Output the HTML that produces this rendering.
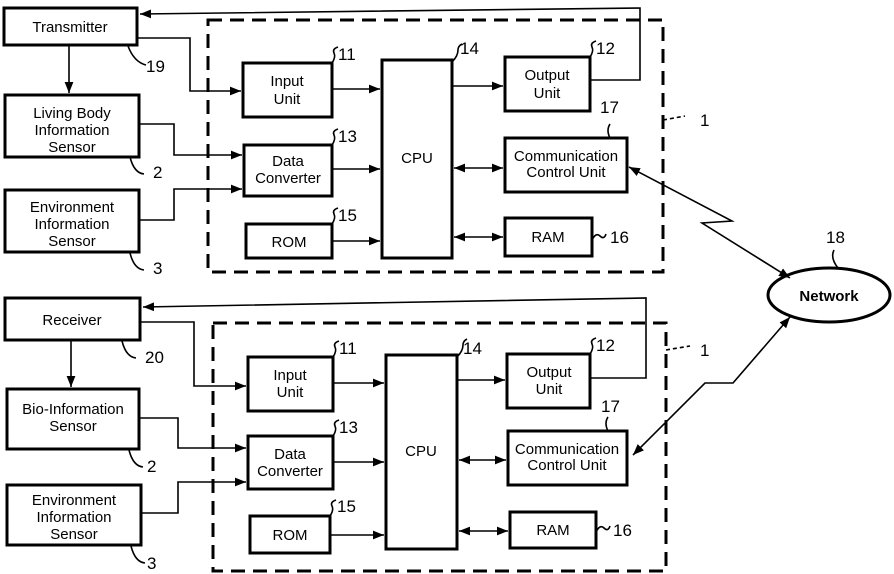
<!DOCTYPE html>
<html><head><meta charset="utf-8"><style>
html,body{margin:0;padding:0;background:#fff;}
svg{display:block;}
text{font-family:"Liberation Sans","DejaVu Sans",sans-serif;font-size:15px;fill:#000;text-anchor:middle;}
.n{font-size:17px;text-anchor:start;}
</style></head><body>
<svg width="894" height="574" viewBox="0 0 894 574" xmlns="http://www.w3.org/2000/svg">
<defs>
<marker id="a" viewBox="0 0 10 10" refX="10" refY="5" markerWidth="11" markerHeight="11" markerUnits="userSpaceOnUse" orient="auto-start-reverse"><path d="M0,1 L10,5 L0,9 z" fill="#000"/></marker>
</defs>
<g fill="none" stroke="#000" stroke-width="3">
<rect x="4" y="8" width="133" height="37"/>
<rect x="5" y="95" width="134" height="62"/>
<rect x="5" y="190" width="134" height="62"/>
<rect x="208" y="20" width="455" height="252" stroke-dasharray="14,8"/>
<rect x="243" y="63" width="89" height="54"/>
<rect x="244" y="145" width="88" height="51"/>
<rect x="246" y="224" width="86" height="34"/>
<rect x="382" y="60" width="70" height="198"/>
<rect x="505" y="57" width="85" height="54"/>
<rect x="505" y="138" width="122" height="54"/>
<rect x="505" y="218" width="87" height="38"/>
<rect x="5" y="298" width="135" height="42"/>
<rect x="7" y="389" width="132" height="60"/>
<rect x="7" y="485" width="134" height="60"/>
<rect x="213" y="323" width="453" height="248" stroke-dasharray="14,8"/>
<rect x="248" y="357" width="85" height="54"/>
<rect x="248" y="436" width="85" height="53"/>
<rect x="250" y="516" width="80" height="37"/>
<rect x="386" y="355" width="71" height="194"/>
<rect x="507" y="354" width="83" height="54"/>
<rect x="508" y="431" width="119" height="54"/>
<rect x="510" y="512" width="86" height="36"/>
<ellipse cx="829" cy="295" rx="61" ry="27"/>
</g>
<g fill="none" stroke="#000" stroke-width="1.6">
<polyline points="137,38 190,38 190,91 241,91" marker-end="url(#a)"/>
<polyline points="590,80 640,80 640,8 140,14" marker-end="url(#a)"/>
<line x1="69" y1="45" x2="69" y2="93" marker-end="url(#a)"/>
<polyline points="139,124 174,124 174,155 242,155" marker-end="url(#a)"/>
<polyline points="139,220 174,220 174,189 242,189" marker-end="url(#a)"/>
<line x1="332" y1="89" x2="380" y2="89" marker-end="url(#a)"/>
<line x1="332" y1="169" x2="380" y2="169" marker-end="url(#a)"/>
<line x1="332" y1="241" x2="380" y2="241" marker-end="url(#a)"/>
<line x1="452" y1="86" x2="503" y2="86" marker-end="url(#a)"/>
<line x1="454" y1="168" x2="503" y2="168" marker-start="url(#a)" marker-end="url(#a)"/>
<line x1="454" y1="237" x2="503" y2="237" marker-start="url(#a)" marker-end="url(#a)"/>
<polyline points="629,167 732,221 702,223 790,278" marker-start="url(#a)" marker-end="url(#a)"/>
<polyline points="140,322 194,322 194,386 246,386" marker-end="url(#a)"/>
<polyline points="590,378 646,378 646,298 143,307" marker-end="url(#a)"/>
<line x1="71" y1="340" x2="71" y2="387" marker-end="url(#a)"/>
<polyline points="139,418 178,418 178,448 246,448" marker-end="url(#a)"/>
<polyline points="141,513 178,513 178,482 246,482" marker-end="url(#a)"/>
<line x1="333" y1="383" x2="384" y2="383" marker-end="url(#a)"/>
<line x1="333" y1="462" x2="384" y2="462" marker-end="url(#a)"/>
<line x1="330" y1="535" x2="384" y2="535" marker-end="url(#a)"/>
<line x1="457" y1="380" x2="505" y2="380" marker-end="url(#a)"/>
<line x1="459" y1="460" x2="506" y2="460" marker-start="url(#a)" marker-end="url(#a)"/>
<line x1="459" y1="531" x2="508" y2="531" marker-start="url(#a)" marker-end="url(#a)"/>
<polyline points="790,317 733,383 705,383 633,455" marker-start="url(#a)" marker-end="url(#a)"/>
<path d="M128,46 q6,16 18,19"/><path d="M130,157 q4,16 14,17"/><path d="M130,253 q4,16 14,17"/>
<path d="M122,341 q4,16 14,17"/><path d="M129,450 q4,16 14,17"/><path d="M131,546 q4,16 14,17"/>
<path d="M332,63 q4,-6 2,-10 q-2,-4 4,-6"/><path d="M332,145 q4,-6 2,-10 q-2,-4 4,-6"/><path d="M332,224 q4,-6 2,-10 q-2,-4 4,-6"/>
<path d="M452,62 q6,-6 6,-12 q0,-4 4,-6"/><path d="M590,57 q4,-6 2,-10 q-2,-4 4,-6"/><path d="M610,138 q-4,-8 0,-14"/>
<path d="M592,240 q4,-8 8,-4 q4,4 6,-2"/>
<path d="M333,357 q4,-6 2,-10 q-2,-4 4,-6"/><path d="M333,436 q4,-6 2,-10 q-2,-4 4,-6"/><path d="M330,516 q4,-6 2,-10 q-2,-4 4,-6"/>
<path d="M457,357 q6,-6 6,-12 q0,-4 4,-6"/><path d="M590,354 q4,-6 2,-10 q-2,-4 4,-6"/><path d="M608,431 q-4,-8 0,-14"/>
<path d="M596,532 q4,-8 8,-4 q4,4 6,-2"/>
<path d="M838,268 q-8,-10 -4,-18"/>
<path d="M663,120 l22,-4" stroke-dasharray="4,3"/><path d="M666,350 l24,-4" stroke-dasharray="4,3"/>
</g>
<g>
<text x="70" y="32">Transmitter</text>
<text x="72" y="118">Living Body</text><text x="72" y="135">Information</text><text x="72" y="152">Sensor</text>
<text x="72" y="212">Environment</text><text x="72" y="229">Information</text><text x="72" y="246">Sensor</text>
<text x="287" y="86">Input</text><text x="287" y="104">Unit</text>
<text x="288" y="166">Data</text><text x="288" y="183">Converter</text>
<text x="289" y="247">ROM</text>
<text x="417" y="163">CPU</text>
<text x="547" y="80">Output</text><text x="547" y="98">Unit</text>
<text x="566" y="161">Communication</text><text x="566" y="177">Control Unit</text>
<text x="548" y="242">RAM</text>
<text x="72" y="325">Receiver</text>
<text x="73" y="414">Bio-Information</text><text x="73" y="431">Sensor</text>
<text x="74" y="505">Environment</text><text x="74" y="522">Information</text><text x="74" y="539">Sensor</text>
<text x="290" y="380">Input</text><text x="290" y="397">Unit</text>
<text x="290" y="459">Data</text><text x="290" y="476">Converter</text>
<text x="290" y="540">ROM</text>
<text x="421" y="456">CPU</text>
<text x="549" y="377">Output</text><text x="549" y="394">Unit</text>
<text x="567" y="454">Communication</text><text x="567" y="470">Control Unit</text>
<text x="553" y="535">RAM</text>
<text x="829" y="301" style="font-weight:bold">Network</text>
<text class="n" x="146" y="72">19</text><text class="n" x="153" y="178">2</text><text class="n" x="153" y="274">3</text>
<text class="n" x="145" y="363">20</text><text class="n" x="147" y="472">2</text><text class="n" x="147" y="569">3</text>
<text class="n" x="338" y="60">11</text><text class="n" x="338" y="142">13</text><text class="n" x="338" y="221">15</text>
<text class="n" x="460" y="54">14</text><text class="n" x="596" y="54">12</text><text class="n" x="600" y="113">17</text><text class="n" x="610" y="243">16</text>
<text class="n" x="339" y="354">11</text><text class="n" x="339" y="433">13</text><text class="n" x="337" y="512">15</text>
<text class="n" x="463" y="354">14</text><text class="n" x="596" y="351">12</text><text class="n" x="601" y="412">17</text><text class="n" x="613" y="536">16</text>
<text class="n" x="826" y="243">18</text><text class="n" x="700" y="126">1</text><text class="n" x="700" y="356">1</text>
</g>
</svg>
</body></html>
